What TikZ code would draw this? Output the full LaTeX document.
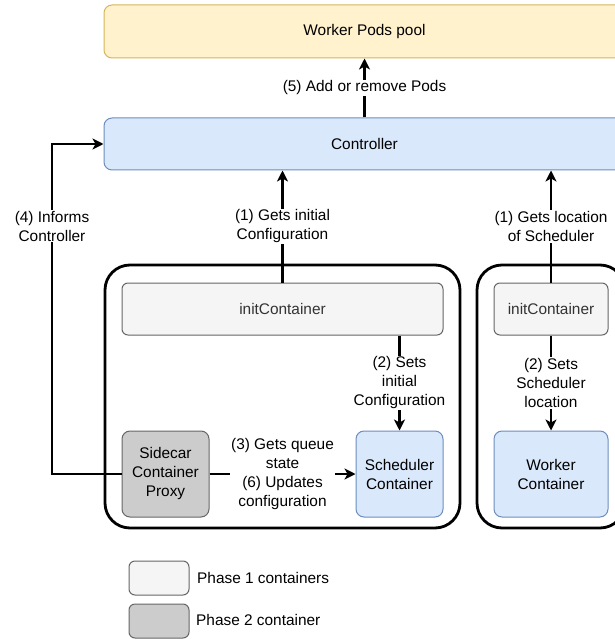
\documentclass[tikz,border=0pt]{standalone}
\usepackage{fontspec}
\setmainfont{Liberation Sans}
\usetikzlibrary{arrows.meta,calc}
\definecolor{poolfill}{HTML}{FFF2CC}
\definecolor{poolline}{HTML}{D6B656}
\definecolor{bluefill}{HTML}{DAE8FC}
\definecolor{blueline}{HTML}{6C8EBF}
\definecolor{grayfill}{HTML}{F5F5F5}
\definecolor{grayline}{HTML}{666666}
\definecolor{darkfill}{HTML}{CCCCCC}
\definecolor{graytext}{HTML}{333333}
\begin{document}
\begin{tikzpicture}[x=1pt,y=-1pt,
  font=\fontsize{15.4}{19}\selectfont,
  box/.style={draw, rounded corners=8pt, align=center, inner sep=0pt, line width=1pt},
  bluebox/.style={box, fill=bluefill, draw=blueline},
  initbox/.style={box, fill=grayfill, draw=grayline, text=graytext},
  sidebox/.style={box, fill=darkfill, draw=grayline},
  podbox/.style={draw, line width=2.8pt, rounded corners=25pt, inner sep=0pt},
  conn/.style={line width=2.8pt, -{Stealth[length=11pt,width=11pt,inset=3pt]}},
  lbl/.style={fill=white, align=center, inner sep=1pt}]
\useasboundingbox (0,0) rectangle (614,639);
% containers / pods
\node[podbox, minimum width=355pt, minimum height=263pt] (podL) at (282.5,396.5) {};
\node[podbox, minimum width=148pt, minimum height=263pt] (podR) at (551,396.5) {};
% main boxes
\node[box, fill=poolfill, draw=poolline, minimum width=521pt, minimum height=53pt] (pool) at (364.5,31.5) {Worker Pods pool};
\node[bluebox, minimum width=521pt, minimum height=52pt] (ctrl) at (364.5,144) {Controller};
\node[initbox, rounded corners=6pt, minimum width=321pt, minimum height=52pt] (initL) at (282.5,309) {initContainer};
\node[initbox, rounded corners=6pt, minimum width=114pt, minimum height=52pt] (initR) at (551,309) {initContainer};
\node[sidebox, minimum width=87pt, minimum height=86pt] (side) at (165.5,474) {Sidecar\\Container\\Proxy};
\node[bluebox, minimum width=87pt, minimum height=86pt] (sched) at (399.5,474) {Scheduler\\Container};
\node[bluebox, minimum width=114pt, minimum height=86pt] (work) at (551,474) {Worker\\Container};
% legend
\node[initbox, rounded corners=6pt, minimum width=60pt, minimum height=34pt] (leg1) at (159,578) {};
\node[sidebox, rounded corners=6pt, minimum width=60pt, minimum height=34pt] (leg2) at (159,621) {};
\node[anchor=west, inner sep=0pt] (leg1t) at (197,578) {Phase 1 containers};
\node[anchor=west, inner sep=0pt] (leg2t) at (196,620) {Phase 2 container};
% connectors
\draw[conn] (ctrl.north -| pool.south) -- (pool.south) node[lbl, midway] {(5) Add or remove Pods};
\draw[conn] (initL.north) -- (initL.north |- ctrl.south) node[lbl, midway] {(1) Gets initial\\Configuration};
\draw[conn] (initR.north) -- (initR.north |- ctrl.south) node[lbl, midway] {(1) Gets location\\of Scheduler};
\draw[conn] (initL.south -| sched.north) -- (sched.north) node[lbl, midway] {(2) Sets\\initial\\Configuration};
\draw[conn] (initR.south) -- (work.north) node[lbl, midway] {(2) Sets\\Scheduler\\location};
\draw[conn] (side.east) -- (sched.west) node[lbl, midway] {(3) Gets queue\\state\\(6) Updates\\configuration};
\coordinate (c4) at (52,474);
\draw[conn] (side.west) -- (c4) -- (c4 |- ctrl.west) -- (ctrl.west);
\node[lbl] (l4) at (52,226) {(4) Informs\\Controller};
\end{tikzpicture}
\end{document}
